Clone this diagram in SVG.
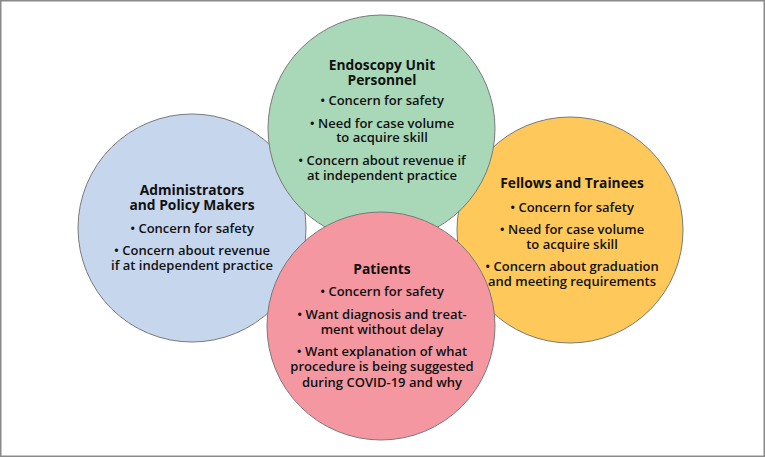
<svg xmlns="http://www.w3.org/2000/svg" width="765" height="457" viewBox="0 0 765 457">
<style>
.c{stroke:#7a7a7a;stroke-width:1}
.t{font-family:"Open Sans",Lato,sans-serif;font-weight:bold;font-size:13.8px;fill:#111;text-anchor:middle}
.b{font-family:"Open Sans",Lato,sans-serif;font-weight:600;font-size:13px;fill:#111;text-anchor:middle}
</style>
<rect x="0.75" y="0.75" width="763.5" height="455.5" fill="#fff" stroke="#8a8a8a" stroke-width="1.5"/>
<g id="administrators">
<circle class="c" cx="192" cy="228" r="114" fill="#c6d6ed"/>
<text class="t" x="192" y="195">Administrators</text>
<text class="t" x="192" y="210">and Policy Makers</text>
<text class="b" x="192" y="233">• Concern for safety</text>
<text class="b" x="192" y="255">• Concern about revenue</text>
<text class="b" x="192" y="270">if at independent practice</text>
</g>
<g id="fellows">
<circle class="c" cx="570" cy="230" r="113" fill="#fec95a"/>
<text class="t" x="572" y="188">Fellows and Trainees</text>
<text class="b" x="572" y="212">• Concern for safety</text>
<text class="b" x="572" y="234">• Need for case volume</text>
<text class="b" x="572" y="249">to acquire skill</text>
<text class="b" x="572" y="271">• Concern about graduation</text>
<text class="b" x="572" y="286">and meeting requirements</text>
</g>
<g id="endoscopy">
<circle class="c" cx="381.5" cy="128.5" r="113.5" fill="#a9d8b8"/>
<text class="t" x="382" y="70">Endoscopy Unit</text>
<text class="t" x="382" y="85">Personnel</text>
<text class="b" x="382" y="105">• Concern for safety</text>
<text class="b" x="382" y="128">• Need for case volume</text>
<text class="b" x="382" y="142">to acquire skill</text>
<text class="b" x="382" y="165">• Concern about revenue if</text>
<text class="b" x="382" y="180">at independent practice</text>
</g>
<g id="patients">
<circle class="c" cx="381" cy="326" r="114" fill="#f497a1"/>
<text class="t" x="382" y="274">Patients</text>
<text class="b" x="382" y="296">• Concern for safety</text>
<text class="b" x="382" y="319">• Want diagnosis and treat-</text>
<text class="b" x="382" y="334">ment without delay</text>
<text class="b" x="382" y="356">• Want explanation of what</text>
<text class="b" x="382" y="371">procedure is being suggested</text>
<text class="b" x="382" y="387">during COVID-19 and why</text>
</g>
<g id="connectors"/>
</svg>
